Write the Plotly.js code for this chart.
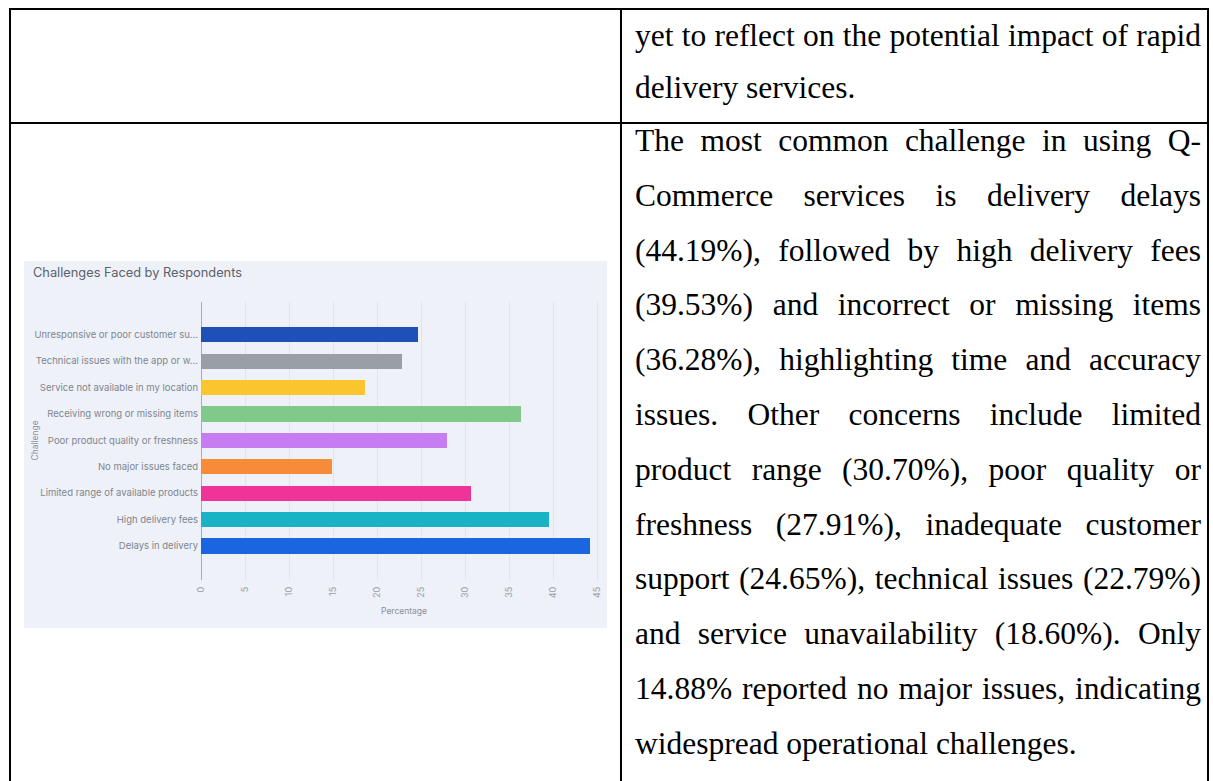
<!DOCTYPE html>
<html>
<head>
<meta charset="utf-8">
<script src="https://cdn.plot.ly/plotly-3.0.1.min.js"></script>
<style>
  html, body { margin:0; padding:0; background:#fff; width:1213px; height:781px; overflow:hidden; }
  .b { position:absolute; background:#000; }
  .txt { position:absolute; left:635px; width:566px; font-family:"Liberation Serif","Times New Roman",serif; font-size:31.5px; color:#000; }
  .ln { height:54.8px; line-height:54.8px; text-align:justify; text-align-last:justify; white-space:nowrap; }
  #row1 .ln { height:52px; }
  .ln.last { text-align-last:left; }
  #chart { position:absolute; left:24px; top:261px; width:583px; height:367px; }
</style>
</head>
<body>
<div class="b" style="left:9px; top:8px; width:1200px; height:2px;"></div>
<div class="b" style="left:9px; top:8px; width:2px; height:773px;"></div>
<div class="b" style="left:620px; top:8px; width:2px; height:773px;"></div>
<div class="b" style="left:1207px; top:8px; width:2px; height:773px;"></div>
<div class="b" style="left:9px; top:122px; width:1200px; height:2px;"></div>

<div class="txt" id="row1" style="top:9px;"></div>
<div class="txt" id="row2" style="top:114px;"></div>

<div id="chart"></div>

<script>
// ---- document text (right column) ----
const row1Lines = [
  "yet to reflect on the potential impact of rapid",
  "delivery services."
];
const row2Lines = [
  "The most common challenge in using Q-",
  "Commerce services is delivery delays",
  "(44.19%), followed by high delivery fees",
  "(39.53%) and incorrect or missing items",
  "(36.28%), highlighting time and accuracy",
  "issues. Other concerns include limited",
  "product range (30.70%), poor quality or",
  "freshness (27.91%), inadequate customer",
  "support (24.65%), technical issues (22.79%)",
  "and service unavailability (18.60%). Only",
  "14.88% reported no major issues, indicating",
  "widespread operational challenges."
];

// ---- chart data (top to bottom) ----
const categories = [
  "Unresponsive or poor customer su...",
  "Technical issues with the app or w...",
  "Service not available in my location",
  "Receiving wrong or missing items",
  "Poor product quality or freshness",
  "No major issues faced",
  "Limited range of available products",
  "High delivery fees",
  "Delays in delivery"
];
const percentages = [24.65, 22.79, 18.60, 36.28, 27.91, 14.88, 30.70, 39.53, 44.19];
const barColors = ["#1e50b8", "#9a9ea7", "#fbc530", "#80c98b", "#c67df2", "#f88b38", "#ee3399", "#1ab3c5", "#1a66e0"];
const xTicks = [0, 5, 10, 15, 20, 25, 30, 35, 40, 45];

function fill(id, lines) {
  const el = document.getElementById(id);
  lines.forEach((t, i) => {
    const d = document.createElement('div');
    d.className = 'ln' + (i === lines.length - 1 ? ' last' : '');
    d.textContent = t;
    el.appendChild(d);
  });
}
fill('row1', row1Lines);
fill('row2', row2Lines);

const bg = '#eef1f8';
const fontFam = 'Inter, "Open Sans", sans-serif';

Plotly.newPlot('chart', [{
  type: 'bar',
  orientation: 'h',
  x: percentages,
  y: categories,
  marker: { color: barColors, line: { width: 0 } },
  width: 0.575,
  hoverinfo: 'skip'
}], {
  width: 583, height: 367,
  margin: { l: 177, r: 0, t: 41, b: 48, pad: 0 },
  paper_bgcolor: bg,
  plot_bgcolor: bg,
  font: { family: fontFam, color: '#80858f' },
  title: {
    text: 'Challenges Faced by Respondents',
    x: 9 / 583, xanchor: 'left', xref: 'container',
    y: 1 - 12 / 367, yanchor: 'middle', yref: 'container',
    font: { family: fontFam, size: 12.8, color: '#5b606b' }
  },
  xaxis: {
    range: [0, 46.1],
    tickmode: 'array', tickvals: xTicks, ticktext: xTicks.map(String),
    tickangle: -90,
    tickfont: { size: 9, color: '#9a9ea8' },
    ticklabelstandoff: 4,
    showgrid: true, gridcolor: '#e1e4ec', gridwidth: 1,
    zeroline: true, zerolinecolor: '#a7acb6', zerolinewidth: 1,
    showline: false, ticks: '',
    title: { text: 'Percentage', font: { size: 8.5, color: '#8a8f99' }, standoff: 10 },
    fixedrange: true
  },
  yaxis: {
    type: 'category',
    categoryorder: 'array', categoryarray: categories,
    range: [9.29, -1.24],
    autorange: false,
    tickfont: { size: 9.5, color: '#80858f' },
    ticklabelstandoff: 2,
    showgrid: false, zeroline: false, showline: false, ticks: '',
    fixedrange: true
  },
  annotations: [{
    text: 'Challenge', textangle: -90,
    xref: 'paper', yref: 'paper', x: -0.41, y: 0.5,
    xanchor: 'center', yanchor: 'middle', showarrow: false,
    font: { family: fontFam, size: 8.5, color: '#8a8f99' }
  }],
  showlegend: false,
  bargap: 0
}, { displayModeBar: false, staticPlot: true });
</script>
</body>
</html>
